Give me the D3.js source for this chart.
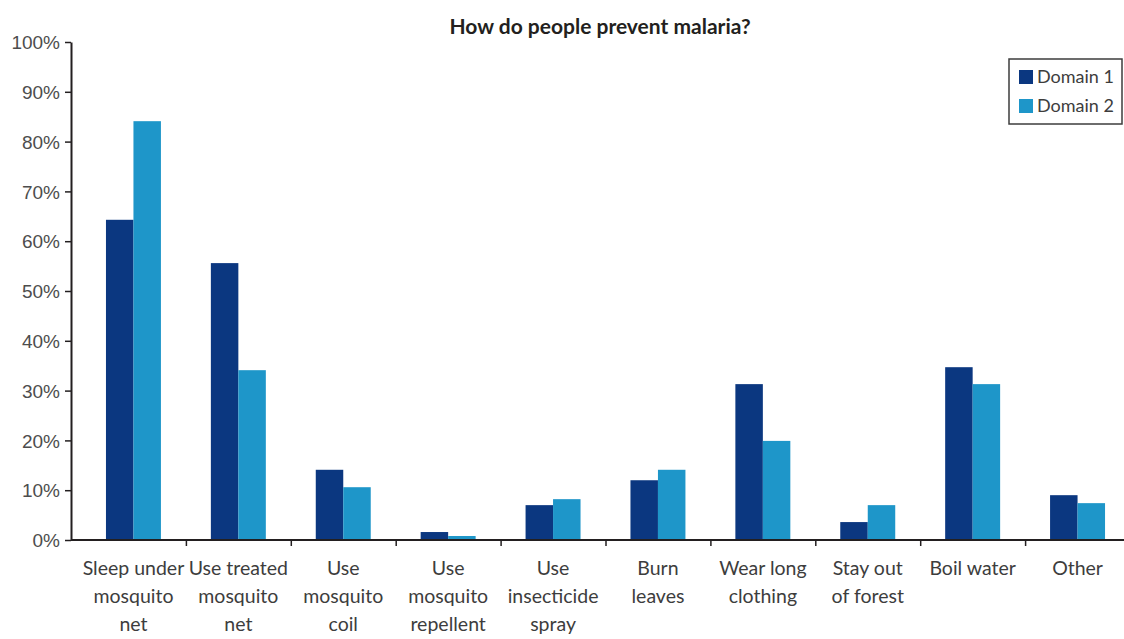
<!DOCTYPE html>
<html>
<head>
<meta charset="utf-8">
<script src="https://cdn.jsdelivr.net/npm/d3@7"></script>
<style>
  body { margin: 0; background: #fff; }
  svg { display: block; font-family: Lato, "Open Sans", sans-serif; }
</style>
</head>
<body>
<svg width="1124" height="639"></svg>
<script>
// категории (перенос строки через \n)
const categories = [
    "Sleep under\nmosquito\nnet",
    "Use treated\nmosquito\nnet",
    "Use\nmosquito\ncoil",
    "Use\nmosquito\nrepellent",
    "Use\ninsecticide\nspray",
    "Burn\nleaves",
    "Wear long\nclothing",
    "Stay out\nof forest",
    "Boil water",
    "Other"
];
const seriesNames = ["Domain 1", "Domain 2"];
const domain1 = [64.3, 55.6, 14.1, 1.6, 7.0, 12.0, 31.3, 3.6, 34.7, 9.0];
const domain2 = [84.1, 34.1, 10.6, 0.8, 8.2, 14.1, 19.9, 7.0, 31.3, 7.4];
const yTicks = [0, 10, 20, 30, 40, 50, 60, 70, 80, 90, 100];
const colors = ["#0b3780", "#1e96c9"];

const svg = d3.select("svg");
const attr_area = {
    width: 1124,
    height: 639,
    left: 71,
    top: 42,
    bottom: 540,
    bandStart: 81,
    bandEnd: 1130
};

// шкалы
const pad = 0.476;
const scX = d3.scaleBand()
    .domain(categories)
    .range([attr_area.bandStart, attr_area.bandEnd])
    .paddingInner(pad)
    .paddingOuter(pad / 2);
const scSeries = d3.scaleBand()
    .domain(seriesNames)
    .range([0, scX.bandwidth()]);
const scY = d3.scaleLinear()
    .domain([0, 100])
    .range([attr_area.bottom, attr_area.top]);
// шкала для засечек между категориями
const scIdx = d3.scaleLinear()
    .domain([0, categories.length])
    .range([attr_area.bandStart, attr_area.bandEnd]);

// заголовок
svg.append("text")
    .attr("x", 600)
    .attr("y", 34)
    .attr("text-anchor", "middle")
    .style("font-size", "21px")
    .style("font-weight", "bold")
    .style("fill", "#231f20")
    .text("How do people prevent malaria?");

// столбцы
const series = [domain1, domain2];
series.forEach((vals, k) => {
    svg.append("g").selectAll("rect")
        .data(vals)
        .enter()
        .append("rect")
        .attr("x", (d, i) => scX(categories[i]) + scSeries(seriesNames[k]))
        .attr("y", d => scY(d))
        .attr("width", scSeries.bandwidth())
        .attr("height", d => scY(0) - scY(d))
        .style("fill", colors[k]);
});

// ось Y
const gY = svg.append("g")
    .attr("transform", `translate(${attr_area.left},0)`)
    .call(d3.axisLeft(scY).tickValues(yTicks).tickSize(6).tickSizeOuter(0).tickFormat(d => d + "%"));
gY.select(".domain").attr("stroke", "#231f20").attr("stroke-width", 2);
gY.selectAll(".tick line").attr("stroke", "#231f20").attr("stroke-width", 1.5);
gY.selectAll("text")
    .attr("x", -11)
    .style("font-size", "19px")
    .style("fill", "#4d4d4d")
    .attr("dy", "0.35em");

// ось X: линия и засечки между категориями
svg.append("line")
    .attr("x1", attr_area.left)
    .attr("x2", attr_area.width)
    .attr("y1", attr_area.bottom)
    .attr("y2", attr_area.bottom)
    .attr("stroke", "#231f20")
    .attr("stroke-width", 2);
const gX = svg.append("g")
    .attr("transform", `translate(0,${attr_area.bottom})`)
    .call(d3.axisBottom(scIdx).tickValues(d3.range(1, categories.length)).tickSize(6).tickFormat(""));
gX.select(".domain").remove();
gX.selectAll(".tick line").attr("stroke", "#231f20").attr("stroke-width", 1.5);

// подписи категорий
const labels = svg.append("g").selectAll("text")
    .data(categories)
    .enter()
    .append("text")
    .attr("x", d => scX(d) + scX.bandwidth() / 2)
    .attr("y", 575)
    .attr("text-anchor", "middle")
    .style("font-size", "19.5px")
    .style("fill", "#3d3d3d");
labels.each(function(d) {
    const t = d3.select(this);
    d.split("\n").forEach((line, j) => {
        t.append("tspan")
            .attr("x", scX(d) + scX.bandwidth() / 2)
            .attr("dy", j === 0 ? 0 : 28)
            .text(line);
    });
});

// легенда
const leg = svg.append("g").attr("transform", "translate(1009,59)");
leg.append("rect")
    .attr("width", 113)
    .attr("height", 65)
    .style("fill", "#fff")
    .style("stroke", "#3d3d3d")
    .style("stroke-width", 1.5);
seriesNames.forEach((name, k) => {
    leg.append("rect")
        .attr("x", 10)
        .attr("y", 11 + k * 29)
        .attr("width", 14)
        .attr("height", 14)
        .style("fill", colors[k]);
    leg.append("text")
        .attr("x", 28)
        .attr("y", 24 + k * 29)
        .style("font-size", "18px")
        .style("fill", "#3d3d3d")
        .text(name);
});
</script>
</body>
</html>
